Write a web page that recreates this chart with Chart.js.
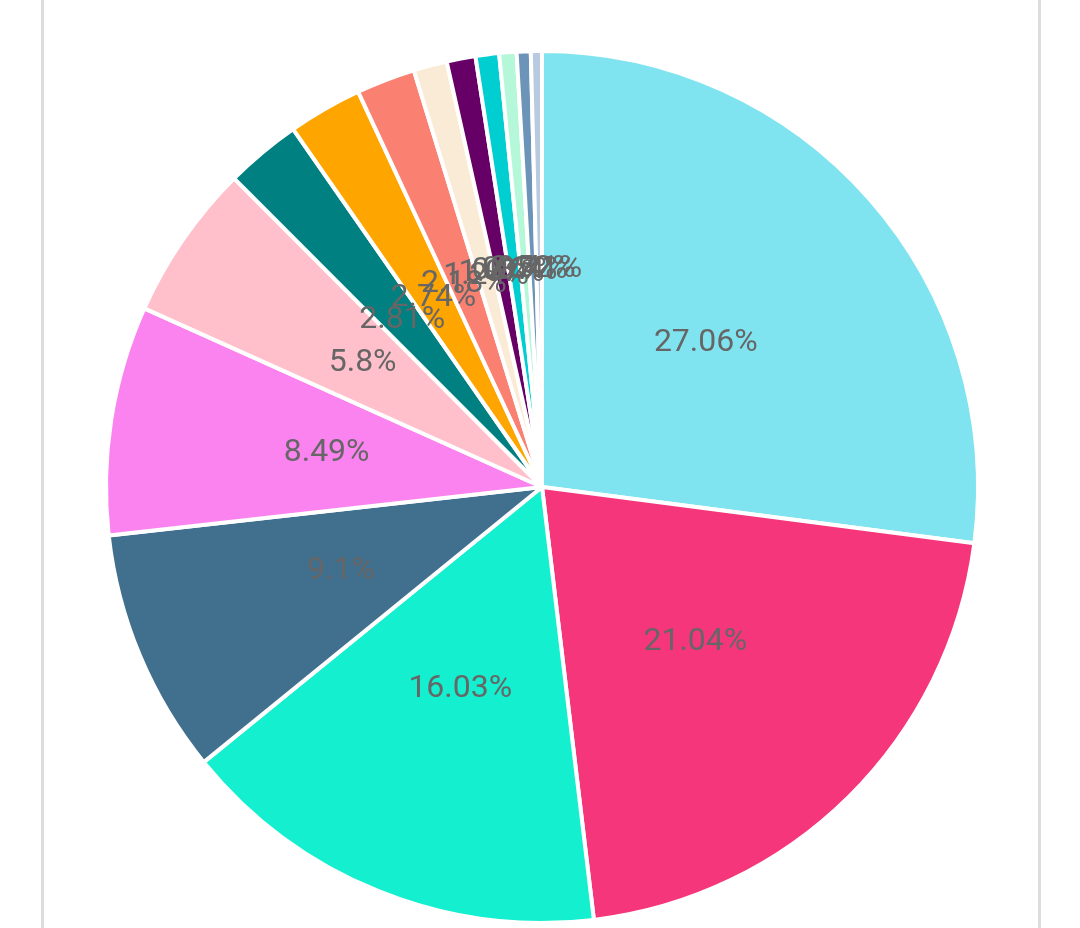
<html>
<head>
<script src="https://cdn.jsdelivr.net/npm/chart.js@4.4.0/dist/chart.umd.min.js"></script>
<style>
 body { margin:0; background:#fff; }
 #card { position:absolute; left:41px; top:0; width:1000px; height:928px; border-left:3px solid #dcdcdc; border-right:3px solid #dcdcdc; box-sizing:border-box; }
 #wrap { position:absolute; left:44px; top:49px; width:996px; height:876px; }
</style>
</head>
<body>
<div id="card"></div>
<div id="wrap"><canvas id="myChart"></canvas></div>
<script>
 // shares in percent
 var labels = ["A","B","C","D","E","F","G","H","I","J","K","L","M","N","O"];
 var values = [27.06, 21.04, 16.03, 9.1, 8.49, 5.8, 2.81, 2.74, 2.18, 1.24, 1.07, 0.87, 0.64, 0.52, 0.41];
 var colors = ["#80e4f0","#f5367a","#14efcf","#41708f","#fb83ef","#ffc0cb","#008080","#ffa500",
               "#fa8072","#faebd7","#660066","#00ced1","#b4f7d9","#6c93b8","#b7cadf"];

 // draw the percent text in the middle of each slice
 var pctLabels = {
  id: "pctLabels",
  afterDatasetsDraw: function(chart) {
   var ctx = chart.ctx;
   var meta = chart.getDatasetMeta(0);
   ctx.save();
   ctx.font = "32px Roboto";
   ctx.fillStyle = "#666";
   ctx.textAlign = "center";
   ctx.textBaseline = "middle";
   meta.data.forEach(function(arc, i) {
    var p = arc.getCenterPoint();
    ctx.fillText(values[i] + "%", p.x, p.y);
   });
   ctx.restore();
  }
 };

 new Chart("myChart", {
  type: "pie",
  data: {
   labels: labels,
   datasets: [{
    data: values,
    backgroundColor: colors,
    borderColor: "#fff",
    borderWidth: 4
   }]
  },
  options: {
   maintainAspectRatio: false,
   animation: false,
   plugins: {
    legend: { display: false },
    tooltip: { enabled: false }
   }
  },
  plugins: [pctLabels]
 });
</script>
</body>
</html>
